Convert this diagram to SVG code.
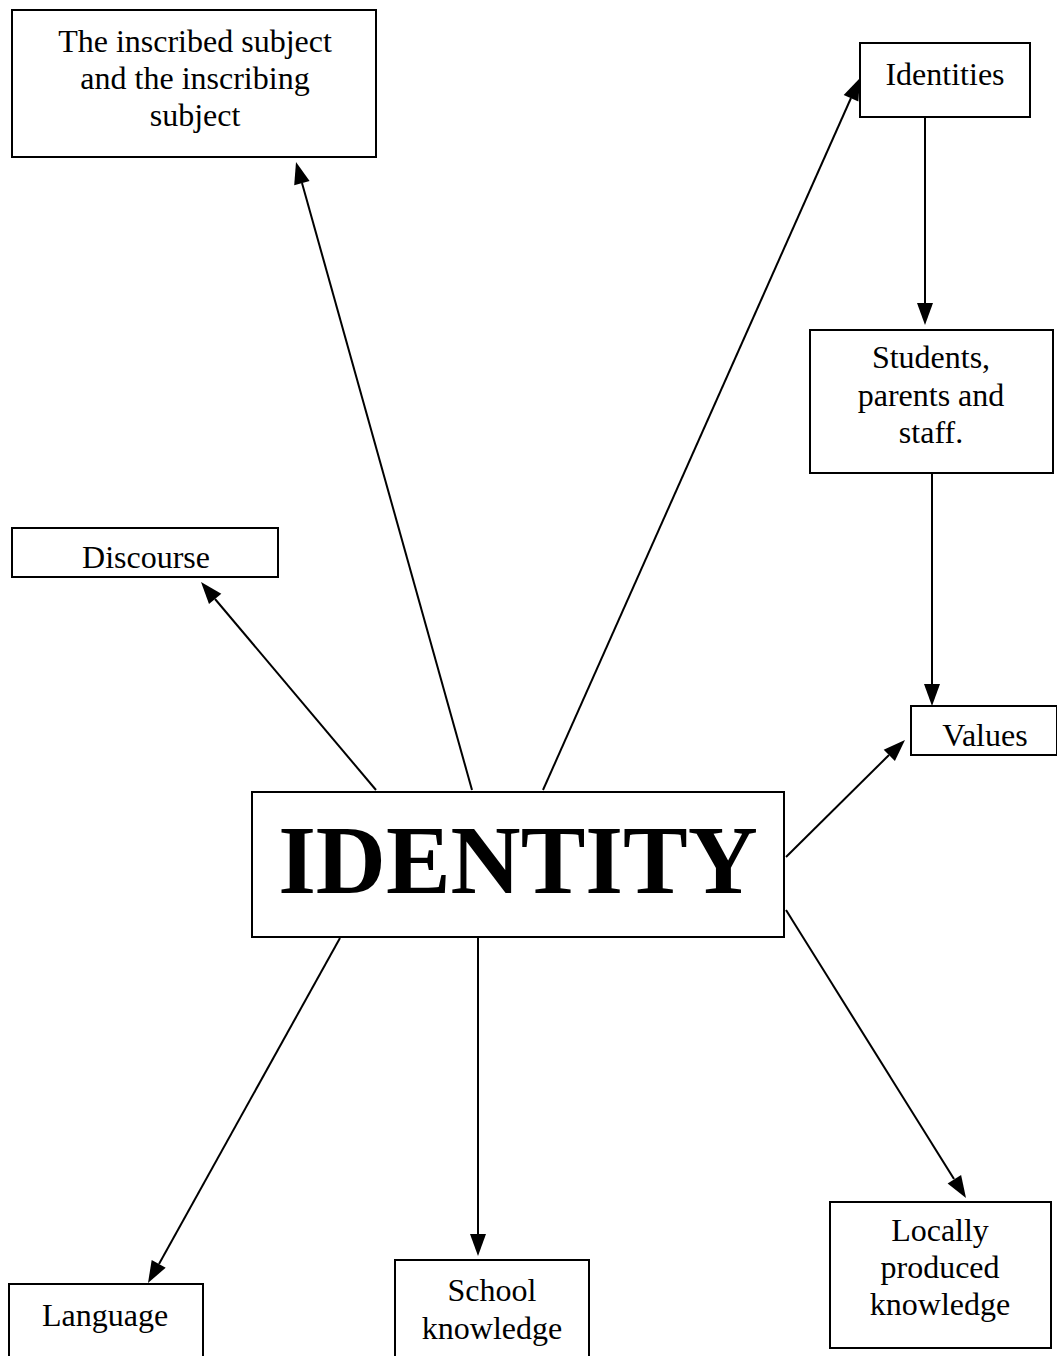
<svg xmlns="http://www.w3.org/2000/svg" width="1057" height="1356" viewBox="0 0 1057 1356">
<style>
.box{fill:#fff;stroke:#000;stroke-width:2}
.t{font-family:"Liberation Serif","Times New Roman",serif;font-size:32px;fill:#000;text-anchor:middle}
.big{font-family:"Liberation Serif","Times New Roman",serif;font-size:97px;font-weight:bold;fill:#000;text-anchor:middle}
.c{stroke:#000;stroke-width:2;fill:none}
.ah{fill:#000;stroke:none}
</style>
<rect width="1057" height="1356" fill="#fff"/>
<g id="connectors">
<path class="c" d="M472,790 L302,183"/>
<path class="ah" d="M296,162 L309.6,181 L294.2,185.3 Z"/>
<path class="c" d="M543,790 L851,98"/>
<path class="ah" d="M860,78 L858.4,101.4 L843.7,94.9 Z"/>
<path class="c" d="M925,117 L925,303"/>
<path class="ah" d="M925,325 L917,303 L933,303 Z"/>
<path class="c" d="M932,473 L932,684"/>
<path class="ah" d="M932,706 L924,684 L940,684 Z"/>
<path class="c" d="M376,790 L215,599"/>
<path class="ah" d="M201,582 L221.3,593.7 L209,604 Z"/>
<path class="c" d="M786,857 L889,755"/>
<path class="ah" d="M905,740 L894.9,761.1 L883.7,749.7 Z"/>
<path class="c" d="M340,938 L159,1264"/>
<path class="ah" d="M148,1283 L165.7,1267.7 L151.7,1259.9 Z"/>
<path class="c" d="M478,938 L478,1234"/>
<path class="ah" d="M478,1256 L470,1234 L486,1234 Z"/>
<path class="c" d="M786,910 L954,1179"/>
<path class="ah" d="M966,1198 L947.6,1183.6 L961.1,1175.1 Z"/>
</g>
<g id="n-inscribed">
<rect class="box" x="12" y="10" width="364" height="147"/>
<text class="t" x="195" y="52">The inscribed subject</text>
<text class="t" x="195" y="89">and the inscribing</text>
<text class="t" x="195" y="126">subject</text>
</g>
<g id="n-identities">
<rect class="box" x="860" y="43" width="170" height="74"/>
<text class="t" x="945" y="85">Identities</text>
</g>
<g id="n-students">
<rect class="box" x="810" y="330" width="243" height="143"/>
<text class="t" x="931" y="368">Students,</text>
<text class="t" x="931" y="406">parents and</text>
<text class="t" x="931" y="443">staff.</text>
</g>
<g id="n-discourse">
<rect class="box" x="12" y="528" width="266" height="49"/>
<text class="t" x="146" y="568">Discourse</text>
</g>
<g id="n-values">
<rect class="box" x="911" y="706" width="146" height="49"/>
<text class="t" x="985" y="746">Values</text>
</g>
<g id="n-identity">
<rect class="box" x="252" y="792" width="532" height="145"/>
<text class="big" x="518" y="893">IDENTITY</text>
</g>
<g id="n-language">
<rect class="box" x="9" y="1284" width="194" height="80"/>
<text class="t" x="105" y="1326">Language</text>
</g>
<g id="n-school">
<rect class="box" x="395" y="1260" width="194" height="104"/>
<text class="t" x="492" y="1301">School</text>
<text class="t" x="492" y="1339">knowledge</text>
</g>
<g id="n-locally">
<rect class="box" x="830" y="1202" width="221" height="146"/>
<text class="t" x="940" y="1241">Locally</text>
<text class="t" x="940" y="1278">produced</text>
<text class="t" x="940" y="1315">knowledge</text>
</g>
</svg>
